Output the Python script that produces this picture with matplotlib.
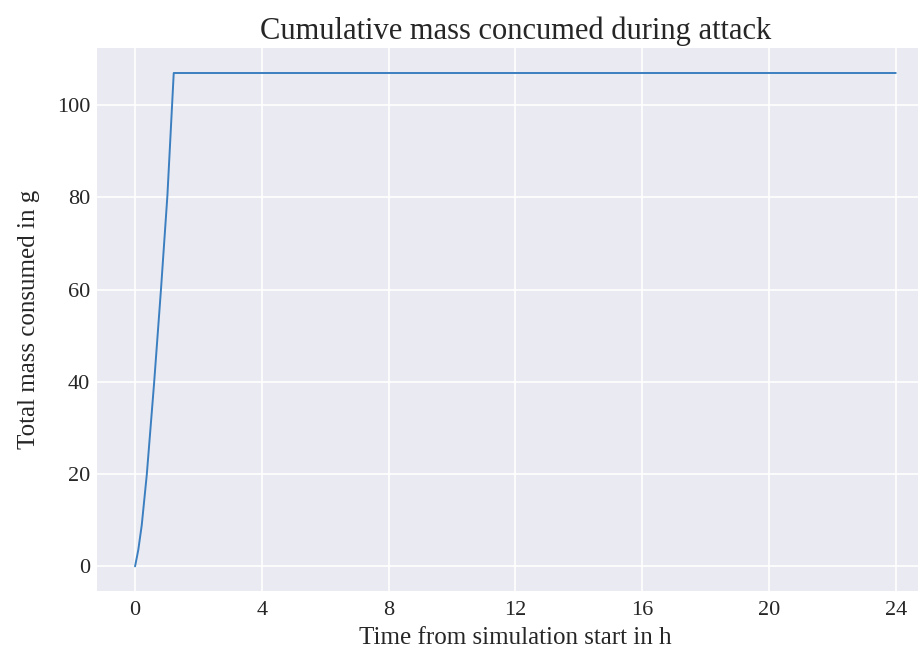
import matplotlib
matplotlib.use("Agg")
import matplotlib.pyplot as plt

# Data
time_h = [0.0, 0.10, 0.21, 0.37, 0.60, 0.82, 1.02, 1.22, 24.0]
mass_g = [0.0, 3.5, 8.9, 19.9, 39.7, 60.3, 80.4, 107.0, 107.0]
xticks = [0, 4, 8, 12, 16, 20, 24]
yticks = [0, 20, 40, 60, 80, 100]

title = "Cumulative mass concumed during attack"
xlabel = "Time from simulation start in h"
ylabel = "Total mass consumed in g"

plt.style.use("seaborn-v0_8-darkgrid")
plt.rcParams["font.family"] = ["Liberation Serif", "DejaVu Serif"]

fig = plt.figure(figsize=(9.18, 6.54), dpi=100)
ax = fig.add_axes([0.1057, 0.0963, 0.9115, 0.8298])

ax.plot(time_h, mass_g, color="#3b7fc0", linewidth=1.4)
ax.set_xticks(xticks)
ax.set_yticks(yticks)
ax.tick_params(axis="x", labelsize=16, labelcolor="#262626", pad=7)
ax.tick_params(axis="y", labelsize=16, labelcolor="#262626", pad=5)
ax.set_title(title, fontsize=22, color="#262626", pad=7)
ax.set_xlabel(xlabel, fontsize=18, color="#262626", labelpad=5)
ax.set_ylabel(ylabel, fontsize=18, color="#262626", labelpad=12)
ax.grid(True, color="white", linewidth=1.2)

fig.savefig("out.png", dpi=100)
